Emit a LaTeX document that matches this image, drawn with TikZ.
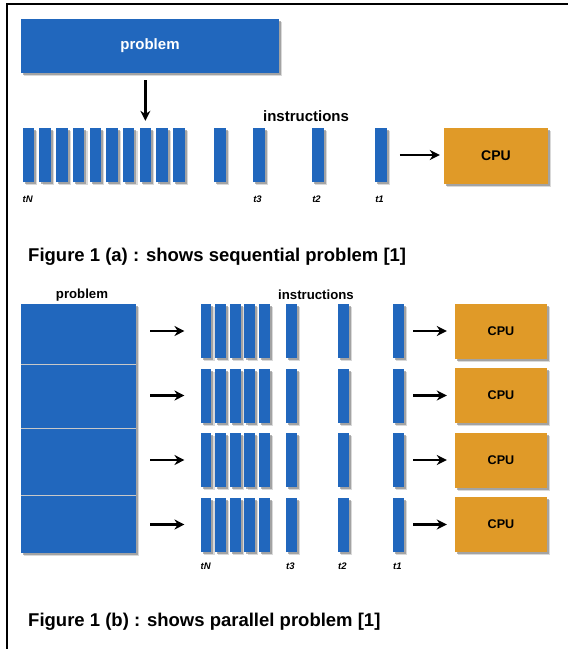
\documentclass[tikz,border=0pt]{standalone}
\usepackage{fontspec}
\setmainfont{Liberation Sans}
\usetikzlibrary{shadows,arrows.meta}
\definecolor{taskblue}{RGB}{33,103,189}
\definecolor{cpuorange}{RGB}{224,154,40}
\definecolor{partline}{RGB}{200,200,200}

\begin{document}
\begin{tikzpicture}[x=1pt, y=-1pt, >={Stealth[length=10pt,width=10pt]},
    boxshadow/.style={drop shadow={shadow xshift=3.2pt, shadow yshift=-3.2pt, opacity=.3},
                      drop shadow={shadow xshift=2pt, shadow yshift=-2pt, opacity=.6}},
    task/.style={fill=taskblue, boxshadow, inner sep=0pt},
    cpu/.style={fill=cpuorange, boxshadow, inner sep=0pt, font=\bfseries\fontsize{14}{16}\selectfont},
    arr/.style={->, line width=2.4pt},
    tlabel/.style={anchor=west, inner sep=0pt, font=\bfseries\itshape\fontsize{9.5}{11}\selectfont},
    caption/.style={anchor=west, inner sep=0pt, font=\bfseries\fontsize{18.5}{22}\selectfont}]
\useasboundingbox (0,0) rectangle (568,649);
\draw[line width=1.5pt] (568,4) -- (7,4) -- (7,649);

% sequential problem
\node[task, minimum width=258, minimum height=54, text=white, font=\bfseries\fontsize{15}{18}\selectfont] (prob) at (150,46) {problem};
\node[font=\bfseries\fontsize{15}{18}\selectfont] (instr) at (306,116) {instructions};
\foreach \i in {1,...,10}
{
    \node[task, minimum width=11.5, minimum height=54] (q\i) at ({28.5+16.7*(\i-1)},155) {};
}
\foreach \n/\x in {a/220, t3/259, t2/318, t1/381}
    \node[task, minimum width=11.5, minimum height=54] (q\n) at (\x,155) {};
\node[tlabel] (lN) at (q1.west |- 0,199) {tN};
\node[tlabel] (l3) at (qt3.west |- 0,199) {t3};
\node[tlabel] (l2) at (qt2.west |- 0,199) {t2};
\node[tlabel] (l1) at (qt1.west |- 0,199) {t1};
\draw[arr, shorten <=7pt, shorten >=7pt] (prob.south -| q8.north) -- (q8.north);
\node[cpu, minimum width=104, minimum height=56] (cpu) at (496,156) {CPU};
\draw[arr, shorten <=13pt, shorten >=4pt] (qt1.east) -- (qt1.east -| cpu.west);
\node[caption] (capa) at (28,257) {Figure 1 (a) : shows sequential problem [1]};

% parallel problem
\node[font=\bfseries\fontsize{13.2}{16}\selectfont] (prob2) at (82,295) {problem};
\node[font=\bfseries\fontsize{13.2}{16}\selectfont] (instr2) at (316,295) {instructions};
\foreach \r/\t/\b in {1/304/364, 2/364/428, 3/428/495, 4/495/553}
    \node[task, minimum width=115, minimum height={\b-\t}] (part\r) at (78.5,{(\t+\b)/2}) {};
\foreach \r in {1,2,3}
    \draw[partline, line width=1pt] (part\r.south west) -- (part\r.south east);
\foreach \r in {1,...,4}
{
    \pgfmathsetmacro\y{331+64.5*(\r-1)}
    \foreach \i in {1,...,5}
        \node[task, minimum width=10.7, minimum height=54] (b\r-\i) at ({206+14.6*(\i-1)},\y) {};
    \foreach \n/\x in {t3/291.5, t2/343.5, t1/398.5}
        \node[task, minimum width=10.7, minimum height=54] (b\r-\n) at (\x,\y) {};
    \node[cpu, minimum width=92, minimum height=55, font=\bfseries\fontsize{12.6}{15}\selectfont] (cpu\r) at (501,\y) {CPU};
    \draw[arr, shorten <=14pt, shorten >=16pt] (part\r.east |- b\r-1.west) -- (b\r-1.west);
    \draw[arr, shorten <=9pt, shorten >=8pt] (b\r-t1.east) -- (b\r-t1.east -| cpu\r.west);
}
\node[tlabel] (mN) at (b4-1.west |- 0,566) {tN};
\node[tlabel] (m3) at (b4-t3.west |- 0,566) {t3};
\node[tlabel] (m2) at (b4-t2.west |- 0,566) {t2};
\node[tlabel] (m1) at (b4-t1.west |- 0,566) {t1};
\node[caption] (capb) at (28,622) {Figure 1 (b) : shows parallel problem [1]};

\end{tikzpicture}
\end{document}
